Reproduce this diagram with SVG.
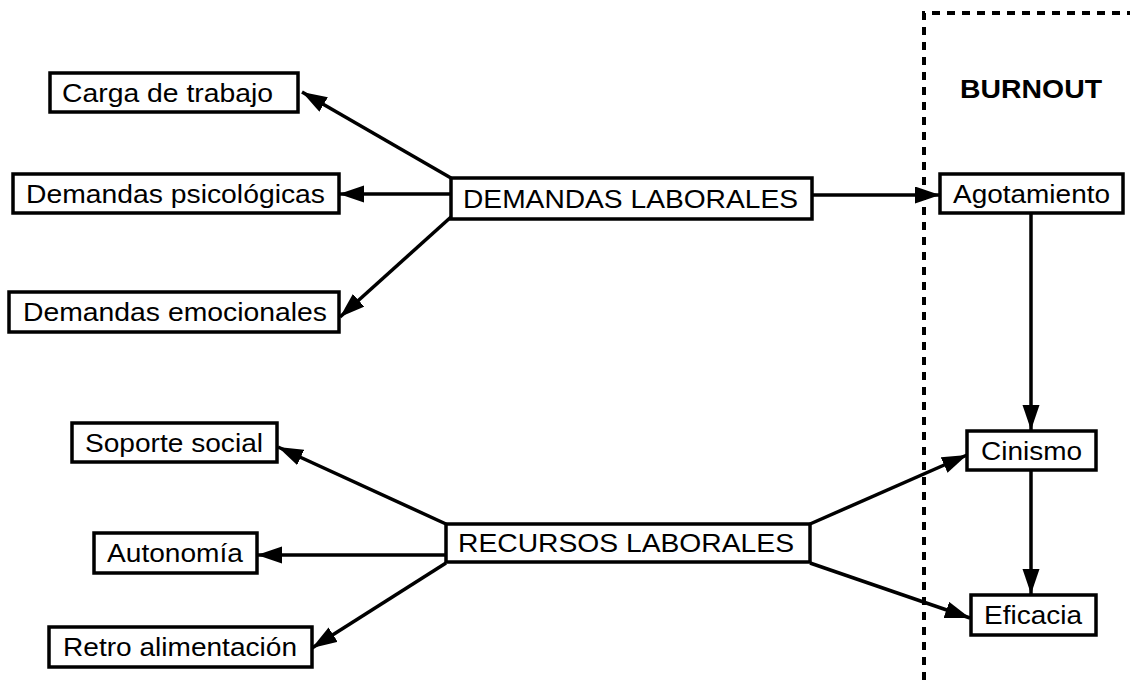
<svg xmlns="http://www.w3.org/2000/svg" width="1130" height="680" viewBox="0 0 1130 680">
<style>
.box{fill:#fff;stroke:#000;stroke-width:3.5}
.t{font-family:"Liberation Sans",Arial,sans-serif;font-size:26px;fill:#000}
.b{font-weight:bold;font-size:25px}
.c{stroke:#000;stroke-width:3.5;fill:none;marker-end:url(#ah)}
</style>
<defs>
<marker id="ah" markerUnits="userSpaceOnUse" markerWidth="26" markerHeight="18" refX="25" refY="8.5" orient="auto">
<path d="M0,0 L25,8.5 L0,17 z" fill="#000"/>
</marker>
</defs>
<rect width="1130" height="680" fill="#fff"/>
<g id="burnout-frame">
<path d="M924,680 L924,13 L1130,13" fill="none" stroke="#000" stroke-width="4" stroke-dasharray="8 7"/>
<text class="t b" x="960" y="98" textLength="142" lengthAdjust="spacingAndGlyphs">BURNOUT</text>
</g>
<g id="connectors">
<line class="c" x1="451" y1="178" x2="302" y2="92"/>
<line class="c" x1="451" y1="194" x2="339" y2="194"/>
<line class="c" x1="451" y1="217" x2="340" y2="317"/>
<line class="c" x1="812" y1="195" x2="940" y2="195"/>
<line class="c" x1="1031" y1="213" x2="1031" y2="430"/>
<line class="c" x1="1031" y1="470" x2="1031" y2="594"/>
<line class="c" x1="446" y1="524" x2="278" y2="447"/>
<line class="c" x1="446" y1="555" x2="257" y2="555"/>
<line class="c" x1="446" y1="563" x2="312" y2="648"/>
<line class="c" x1="810" y1="524" x2="967" y2="455"/>
<line class="c" x1="810" y1="563" x2="970" y2="618"/>
</g>
<g id="carga"><rect class="box" x="50" y="73" width="248" height="39"/><text class="t" x="62" y="101.5" textLength="211" lengthAdjust="spacingAndGlyphs">Carga de trabajo</text></g>
<g id="psicologicas"><rect class="box" x="13" y="174" width="326" height="39"/><text class="t" x="26" y="202.5" textLength="299" lengthAdjust="spacingAndGlyphs">Demandas psicológicas</text></g>
<g id="emocionales"><rect class="box" x="9" y="292" width="330" height="40"/><text class="t" x="23" y="321" textLength="304" lengthAdjust="spacingAndGlyphs">Demandas emocionales</text></g>
<g id="demandas"><rect class="box" x="451" y="178" width="361" height="41"/><text class="t" x="463" y="207.5" textLength="335" lengthAdjust="spacingAndGlyphs">DEMANDAS LABORALES</text></g>
<g id="recursos"><rect class="box" x="446" y="524" width="364" height="38"/><text class="t" x="458" y="552" textLength="336" lengthAdjust="spacingAndGlyphs">RECURSOS LABORALES</text></g>
<g id="soporte"><rect class="box" x="72" y="423" width="205" height="39"/><text class="t" x="85" y="451.5" textLength="178" lengthAdjust="spacingAndGlyphs">Soporte social</text></g>
<g id="autonomia"><rect class="box" x="94" y="533" width="163" height="40"/><text class="t" x="107" y="562" textLength="136" lengthAdjust="spacingAndGlyphs">Autonomía</text></g>
<g id="retro"><rect class="box" x="49" y="627" width="263" height="40"/><text class="t" x="63" y="656" textLength="234" lengthAdjust="spacingAndGlyphs">Retro alimentación</text></g>
<g id="agotamiento"><rect class="box" x="940" y="174" width="183" height="39"/><text class="t" x="953" y="202.5" textLength="157" lengthAdjust="spacingAndGlyphs">Agotamiento</text></g>
<g id="cinismo"><rect class="box" x="967" y="431" width="129" height="39"/><text class="t" x="981" y="459.5" textLength="101" lengthAdjust="spacingAndGlyphs">Cinismo</text></g>
<g id="eficacia"><rect class="box" x="971" y="595" width="125" height="40"/><text class="t" x="984" y="624" textLength="98" lengthAdjust="spacingAndGlyphs">Eficacia</text></g>
</svg>
